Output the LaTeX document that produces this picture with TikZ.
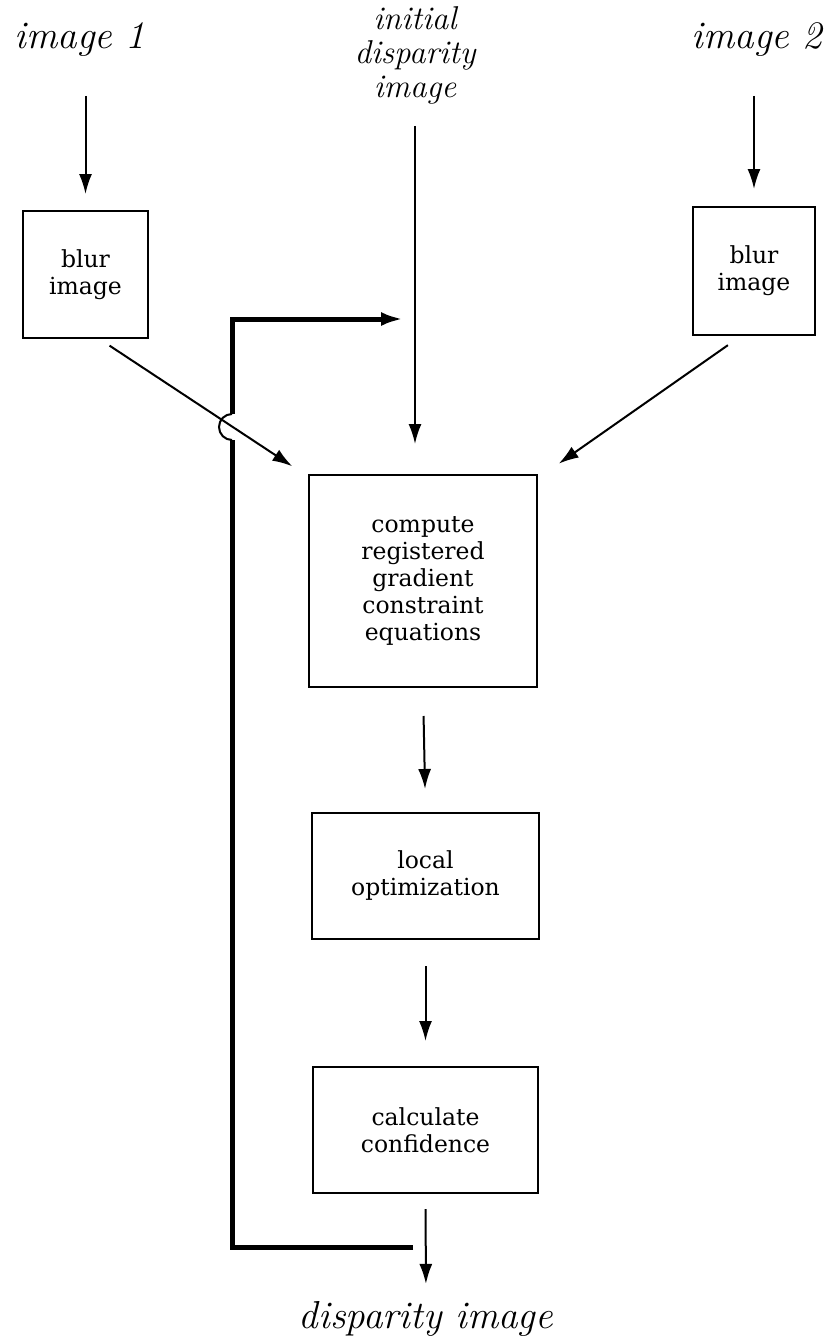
\documentclass[tikz,border=0pt]{standalone}
\usepackage{fontspec}
\usepackage{tikz}
\usetikzlibrary{arrows,arrows.meta,positioning}
\newfontfamily\boxfont{DejaVu Serif}
\tikzset{every picture/.style={line width=2pt}}
\tikzstyle{blk}=[draw,line width=2pt,inner sep=0pt,align=center,font=\boxfont\fontsize{23.5}{27}\selectfont]
\tikzstyle{lbl}=[inner sep=0pt,align=center,font=\itshape\fontsize{39}{29}\selectfont]
\tikzstyle{fb}=[line width=5pt,>={Latex[length=22pt,width=14pt]}]

\begin{document}
\begin{tikzpicture}[x=1pt,y=-1pt]
\useasboundingbox (0,0) rectangle (838,1344);
\node[lbl,anchor=base] (I1) at (80,48) {image 1};
\node[lbl,anchor=base] (I2) at (757,48) {image 2};
\node[lbl,font=\itshape\fontsize{33}{34}\selectfont] (D0) at (415,55) {initial\\disparity\\image};
\node[blk,minimum width=125pt,minimum height=127pt] (B1) at (85.5,274.5) {blur\\image};
\node[blk,minimum width=122pt,minimum height=128pt] (B2) at (754,271) {blur\\image};
\node[blk,minimum width=228pt,minimum height=212pt] (G) at (423,581) {compute\\registered\\gradient\\constraint\\equations};
\node[blk,minimum width=227pt,minimum height=126pt] (O) at (425.5,876) {local\\optimization};
\node[blk,minimum width=225pt,minimum height=126pt] (K) at (425.5,1130) {calculate\\confidence};
\node[lbl,anchor=base] (D) at (426,1328) {disparity image};
\coordinate (fbs) at (413,1247);
\coordinate (fbe) at (403,319);
\path[->,>={Latex[length=20pt,width=13pt]}]
(I1.south -| B1.north) edge[shorten <=39pt,shorten >=16pt] (B1.north)
(I2.south -| B2.north) edge[shorten <=39pt,shorten >=17pt] (B2.north)
(D0.south) edge[shorten <=21pt,shorten >=30pt] (D0.south |- G.north)
([xshift=14pt]B1.south) edge[shorten <=12pt,shorten >=14pt] ([xshift=-4pt]G.north west)
([xshift=-13pt]B2.south) edge[shorten <=16pt,shorten >=18pt] ([xshift=6pt]G.north east)
(G.south) edge[shorten <=28pt,shorten >=23pt] (O.north)
(O.south) edge[shorten <=26pt,shorten >=25pt] (K.north)
(K.south) edge[shorten <=15pt,shorten >=16pt] (D.north);
%feedback
\draw[fb] (fbs) -| (232,440);
\draw (232,440) arc[start angle=90,end angle=270,radius=13];
\draw[fb,->] (232,414) |- (fbe);
\end{tikzpicture}
\end{document}
